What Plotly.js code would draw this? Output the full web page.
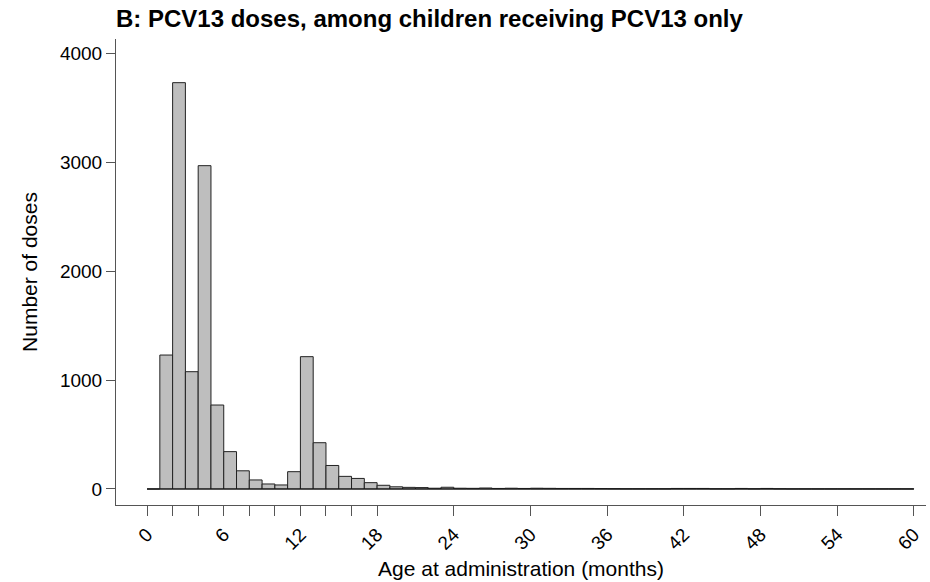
<!DOCTYPE html>
<html>
<head>
<meta charset="utf-8">
<script src="https://cdn.plot.ly/plotly-3.0.1.min.js"></script>
<style>html,body{margin:0;padding:0;background:#fff;}#chart{width:930px;height:582px;}</style>
</head>
<body>
<div id="chart"></div>
<script>
// Histogram bins: start month of each 1-month bin
const binStart = [0,1,2,3,4,5,6,7,8,9,10,11,12,13,14,15,16,17,18,19,20,21,22,23,24,25,26,27,28,29,30,31,32,33,34,35,36,37,38,39,40,41,42,43,44,45,46,47,48,49,50,51,52,53,54,55,56,57,58,59];
const binWidth = 1;
// Number of doses per bin
const doses = [0,1230,3731,1077,2969,771,343,167,83,46,37,159,1215,425,216,116,97,58,34,20,15,13,7,16,7,6,9,5,7,5,7,6,5,5,5,4,3,2,2,2,2,5,5,5,2,2,5,2,5,2,1,1,1,1,1,1,1,1,1,1];
// Axis ticks
const xTickVals = [0,2,4,6,8,10,12,14,16,18,24,30,36,42,48,54,60];
const xLabelVals = [0,6,12,18,24,30,36,42,48,54,60];
const yTickVals = [0,1000,2000,3000,4000];

const xTickText = xTickVals.map(v => xLabelVals.includes(v) ? String(v) : "");
const centers = binStart.map(s => s + binWidth / 2);

const font = {family: "Liberation Sans, Arial, Helvetica, sans-serif", color: "#000"};

const traces = [
  {
    type: "scatter",
    mode: "lines",
    x: [binStart[0], binStart[binStart.length - 1] + binWidth],
    y: [0, 0],
    line: {color: "#111", width: 1},
    hoverinfo: "skip",
    showlegend: false
  },
  {
    type: "bar",
    x: centers,
    y: doses,
    width: binWidth,
    marker: {color: "#bebebe", line: {color: "#222", width: 1}},
    showlegend: false
  }
];

const layout = {
  width: 930,
  height: 582,
  margin: {l: 116, r: 4, t: 39, b: 77},
  paper_bgcolor: "#fff",
  plot_bgcolor: "#fff",
  font: Object.assign({size: 19}, font),
  showlegend: false,
  bargap: 0,
  title: {
    text: "<b>B: PCV13 doses, among children receiving PCV13 only</b>",
    font: Object.assign({size: 24}, font),
    x: 0, xref: "paper", xanchor: "left",
    y: 1 - 19 / 582, yref: "container", yanchor: "middle"
  },
  xaxis: {
    range: [-2.43, 60.95],
    showgrid: false, zeroline: false,
    showline: true, linecolor: "#555", linewidth: 1,
    ticks: "outside", ticklen: 10, tickcolor: "#555", tickwidth: 1,
    tickmode: "array", tickvals: xTickVals, ticktext: xTickText,
    tickangle: -45,
    tickfont: Object.assign({size: 19}, font),
    title: {text: "Age at administration (months)", font: Object.assign({size: 21}, font), standoff: 8}
  },
  yaxis: {
    range: [-147, 4132],
    showgrid: false, zeroline: false,
    showline: true, linecolor: "#555", linewidth: 1,
    ticks: "outside", ticklen: 9, tickcolor: "#555", tickwidth: 1,
    tickmode: "array", tickvals: yTickVals, ticktext: yTickVals.map(String),
    tickfont: Object.assign({size: 19}, font),
    title: {text: "Number of doses", font: Object.assign({size: 21}, font), standoff: 16}
  }
};

Plotly.newPlot("chart", traces, layout, {displayModeBar: false, staticPlot: true});
</script>
</body>
</html>
